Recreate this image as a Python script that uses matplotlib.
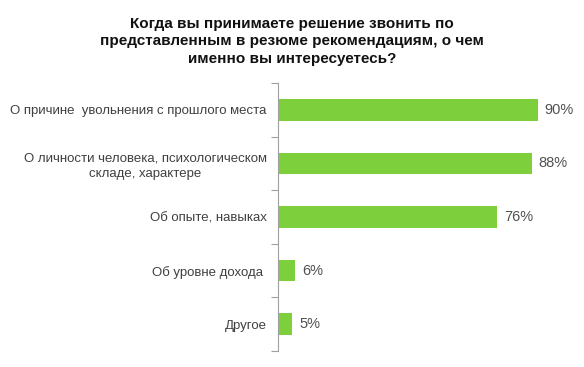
import matplotlib.pyplot as plt

categories = ["О причине  увольнения с прошлого места",
              "О личности человека, психологическом\nскладе, характере",
              "Об опыте, навыках",
              "Об уровне дохода ",
              "Другое"]
values = [90, 88, 76, 6, 5]
value_labels = ["90%", "88%", "76%", "6%", "5%"]

plt.rcParams['font.family'] = ['Liberation Sans', 'DejaVu Sans']

fig = plt.figure(figsize=(5.84, 3.67), dpi=100)
ax = fig.add_axes([0.476, 0.0436, 0.494, 0.7302])

pos = list(range(len(categories)))
ax.barh(pos, values, height=0.4, color="#7dcf3b")
ax.set_ylim(len(categories) - 0.5, -0.5)
ax.set_xlim(0, 100)

for p, v, t in zip(pos, values, value_labels):
    ax.text(v + 2.4, p, t, va="center", ha="left", fontsize=10.5, color="#505050")

ax.set_yticks([p - 0.5 for p in pos] + [len(categories) - 0.5])
ax.set_yticklabels([])
ax.set_yticks(pos, minor=True)
ax.set_yticklabels(categories, minor=True, fontsize=9.5, color="#404040",
                   multialignment="center", linespacing=1.3)
ax.tick_params(axis="y", which="minor", length=0, pad=8)
ax.tick_params(axis="y", which="major", length=5, color="#a0a0a0", width=0.8)
ax.set_xticks([])
for s in ["top", "right", "bottom"]:
    ax.spines[s].set_visible(False)
ax.spines["left"].set_color("#a0a0a0")
ax.spines["left"].set_linewidth(0.8)

fig.text(0.5, 0.955, "Когда вы принимаете решение звонить по\n"
         "представленным в резюме рекомендациям, о чем\n"
         "именно вы интересуетесь?",
         ha="center", va="top", fontsize=11, fontweight="bold",
         color="#111111", linespacing=1.34)

fig.savefig("out.png", dpi=100)
